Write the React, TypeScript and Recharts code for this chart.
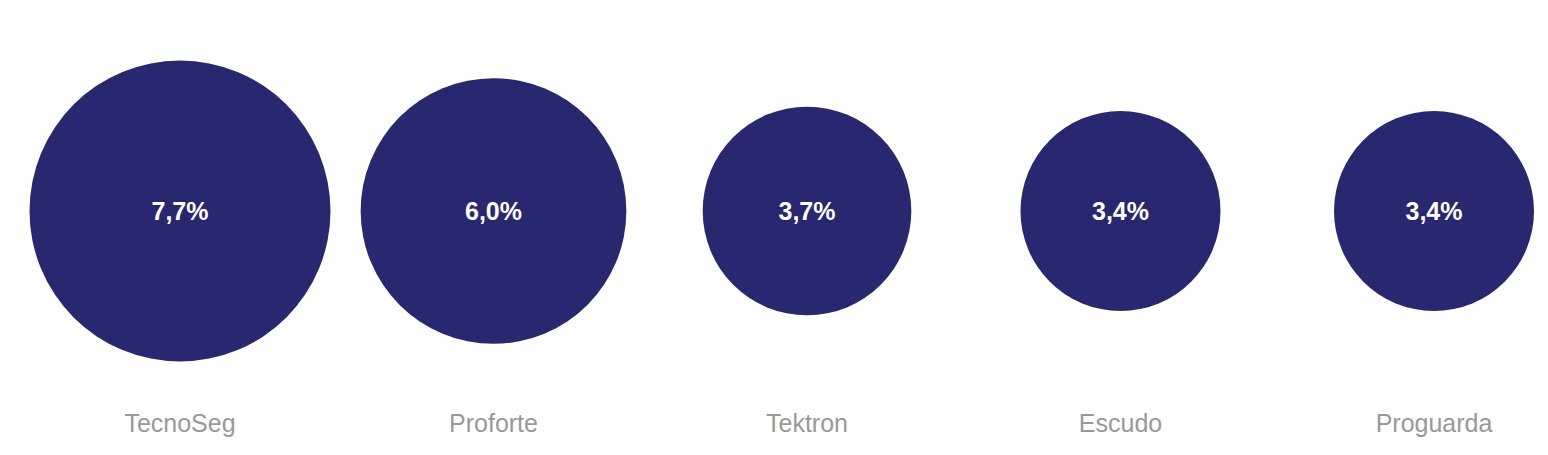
import React from "react";
import { LabelList, Scatter, ScatterChart, XAxis, YAxis, ZAxis } from "recharts";

const companies = ["TecnoSeg", "Proforte", "Tektron", "Escudo", "Proguarda"];
const shares = [7.7, 6.0, 3.7, 3.4, 3.4];
const tickPositions = [0, 1, 2, 3, 4];

const bubbleColor = "#27286f";
const labelColor = "#999999";
const fontFamily = "'Liberation Sans', Arial, sans-serif";

const maxRadius = 150.5;

const data = companies.map((name, i) => ({
	x: i,
	y: 1,
	value: shares[i],
	label: shares[i].toFixed(1).replace(".", ",") + "%",
}));

export default function App() {
	return (
		<div style={{ fontFamily }}>
			<ScatterChart
				width={1540}
				height={447}
				margin={{ top: 0, right: 114, bottom: 0, left: 172 }}
			>
				<XAxis
					type="number"
					dataKey="x"
					domain={[0, 4]}
					ticks={tickPositions}
					interval={0}
					tickFormatter={(i: number) => companies[i]}
					axisLine={false}
					tickLine={false}
					tickSize={0}
					tickMargin={0}
					height={41}
					tick={{ fill: labelColor, fontSize: 25, fontFamily }}
				/>
				<YAxis type="number" dataKey="y" domain={[0, 2]} hide />
				<ZAxis
					type="number"
					dataKey="value"
					domain={[0, 7.7]}
					range={[0, Math.PI * maxRadius * maxRadius]}
				/>
				<Scatter data={data} fill={bubbleColor} isAnimationActive={false}>
					<LabelList
						dataKey="label"
						position="center"
						fill="#ffffff"
						fontSize={25}
						fontWeight="bold"
						fontFamily={fontFamily}
					/>
				</Scatter>
			</ScatterChart>
		</div>
	);
}
